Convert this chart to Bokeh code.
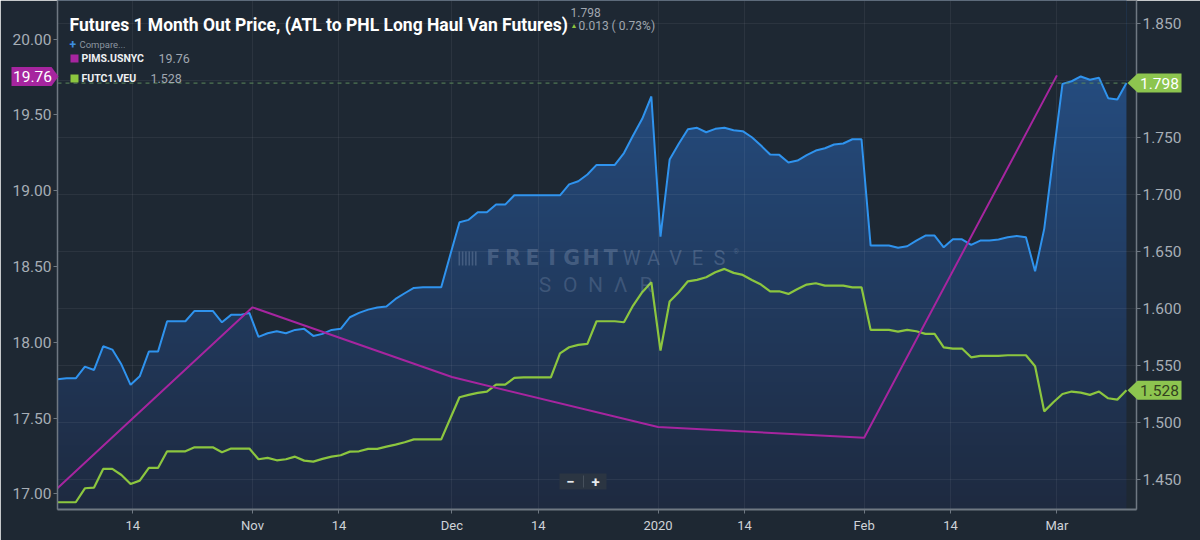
import numpy as np
import pandas as pd
from bokeh.plotting import figure
from bokeh.layouts import column
from bokeh.models import (Range1d, LinearAxis, FixedTicker, PrintfTickFormatter, Label, Span,
                          PolyAnnotation, BoxAnnotation)
from bokeh.core.properties import value
from bokeh.embed import file_html
from bokeh.resources import INLINE

# ---------------- data ----------------
# Futures 1 Month Out Price (ATL to PHL Long Haul Van Futures) - right axis, evenly spaced observations
van_futures = [
    1.5377, 1.5385, 1.5385, 1.5488, 1.5459, 1.5667, 1.5638, 1.5506, 1.5328, 1.5403,
    1.5620, 1.5620, 1.5887, 1.5887, 1.5887, 1.5978, 1.5978, 1.5978, 1.5878, 1.5943,
    1.5943, 1.5960, 1.5749, 1.5781, 1.5799, 1.5781, 1.5811, 1.5820, 1.5758, 1.5776,
    1.5811, 1.5820, 1.5922, 1.5960, 1.5989, 1.6007, 1.6016, 1.6083, 1.6133, 1.6180,
    1.6185, 1.6185, 1.6185, 1.6473, 1.6757, 1.6778, 1.6845, 1.6845, 1.6912, 1.6912,
    1.6994, 1.6994, 1.6994, 1.6994, 1.6994, 1.6994, 1.7090, 1.7117, 1.7176, 1.7261,
    1.7261, 1.7261, 1.7365, 1.7519, 1.7666, 1.7862, 1.6631, 1.7308, 1.7446, 1.7574,
    1.7587, 1.7548, 1.7578, 1.7587, 1.7566, 1.7557, 1.7504, 1.7431, 1.7352, 1.7349,
    1.7282, 1.7299, 1.7346, 1.7387, 1.7407, 1.7440, 1.7449, 1.7486, 1.7486, 1.6552,
    1.6552, 1.6552, 1.6532, 1.6546, 1.6596, 1.6640, 1.6640, 1.6537, 1.6607, 1.6607,
    1.6558, 1.6596, 1.6596, 1.6605, 1.6625, 1.6637, 1.6625, 1.6326, 1.6699, 1.7343,
    1.7973, 1.7996, 1.8038, 1.8009, 1.8026, 1.7847, 1.7835, 1.7980,
]
# FUTC1.VEU - right axis
futc1_veu = [
    1.4296, 1.4296, 1.4296, 1.4419, 1.4425, 1.4589, 1.4589, 1.4536, 1.4457, 1.4486,
    1.4598, 1.4598, 1.4744, 1.4744, 1.4744, 1.4779, 1.4779, 1.4779, 1.4735, 1.4768,
    1.4768, 1.4768, 1.4674, 1.4686, 1.4665, 1.4674, 1.4697, 1.4662, 1.4653, 1.4677,
    1.4697, 1.4709, 1.4741, 1.4744, 1.4765, 1.4765, 1.4785, 1.4803, 1.4823, 1.4849,
    1.4849, 1.4849, 1.4849, 1.5034, 1.5219, 1.5240, 1.5257, 1.5269, 1.5330, 1.5330,
    1.5389, 1.5394, 1.5394, 1.5394, 1.5394, 1.5605, 1.5658, 1.5679, 1.5688, 1.5887,
    1.5887, 1.5887, 1.5878, 1.6025, 1.6142, 1.6229, 1.5629, 1.6060, 1.6142, 1.6238,
    1.6250, 1.6273, 1.6317, 1.6347, 1.6312, 1.6294, 1.6250, 1.6209, 1.6150, 1.6150,
    1.6127, 1.6171, 1.6209, 1.6221, 1.6200, 1.6200, 1.6200, 1.6185, 1.6185, 1.5811,
    1.5811, 1.5811, 1.5796, 1.5811, 1.5799, 1.5776, 1.5776, 1.5658, 1.5647, 1.5647,
    1.5570, 1.5582, 1.5582, 1.5582, 1.5588, 1.5588, 1.5588, 1.5491, 1.5095, 1.5175,
    1.5248, 1.5269, 1.5260, 1.5240, 1.5269, 1.5210, 1.5198, 1.5280,
]
# PIMS.USNYC - monthly, left axis
pims_dates = ["2019-10-01", "2019-11-01", "2019-12-01", "2020-01-01", "2020-02-01", "2020-03-01"]
pims_usnyc = [16.97, 18.23, 17.77, 17.44, 17.37, 19.76]

tick_dates = ["2019-10-14", "2019-11-01", "2019-11-14", "2019-12-01", "2019-12-14",
              "2020-01-01", "2020-01-14", "2020-02-01", "2020-02-14", "2020-03-01"]
tick_labels = ["14", "Nov", "14", "Dec", "14", "2020", "14", "Feb", "14", "Mar"]
left_ticks = [17.0, 17.5, 18.0, 18.5, 19.0, 19.5, 20.0]
right_ticks = [1.45, 1.50, 1.55, 1.60, 1.65, 1.70, 1.75, 1.80, 1.85]

# observation window: the chart spaces the observations evenly across it
window_start = pd.Timestamp("2019-10-02 16:00")
window_end = pd.Timestamp("2020-03-11 11:00")

# ---------------- styling / layout ----------------
BG = "#1e2833"
BLUE = "#2f93ee"
GREEN = "#8cc63f"
PURPLE = "#a6259f"
TAG_GREEN = "#8dc54f"
AXIS_TXT = "#a7aeb6"
FONT = "Roboto"

W, H = 1200, 540
FL, FR, FB, FT = 57, 1136, 509, 0  # frame edges in page pixels

n = len(van_futures)
idx = np.arange(n)


def pos(d):
    return float((pd.Timestamp(d) - window_start) / (window_end - window_start) * (n - 1))


# axis scales: left 20.00 at y=38.5, 151.6 px/unit ; right 1.850 at y=23.4, 1137.9 px/unit
L_PX, L_REF, L_Y = 151.6, 20.0, 38.5
R_PX, R_REF, R_Y = 1137.9, 1.85, 23.4
L_top, L_bot = L_REF + (L_Y - FT) / L_PX, L_REF - (FB - L_Y) / L_PX
R_top, R_bot = R_REF + (R_Y - FT) / R_PX, R_REF - (FB - R_Y) / R_PX


def yL(v):
    return L_Y + (L_REF - v) * L_PX


def yR(v):
    return R_Y + (R_REF - v) * R_PX


p = figure(width=W, height=H, x_range=Range1d(0, 118.1), y_range=Range1d(L_bot, L_top),
           output_backend="svg", toolbar_location=None,
           background_fill_color=BG, border_fill_color=BG, outline_line_color=None,
           min_border_left=FL, min_border_right=W - FR,
           min_border_top=FT, min_border_bottom=H - FB, frame_align=False)
p.extra_y_ranges = {"right": Range1d(R_bot, R_top)}

# axes
ly = p.yaxis[0]
ly.ticker = FixedTicker(ticks=left_ticks)
ly.formatter = PrintfTickFormatter(format="%.2f")
ry = LinearAxis(y_range_name="right", ticker=FixedTicker(ticks=right_ticks),
                formatter=PrintfTickFormatter(format="%.3f"))
p.add_layout(ry, "right")
bx = p.xaxis[0]
tick_pos = [round(pos(d), 4) for d in tick_dates]
bx.ticker = FixedTicker(ticks=tick_pos)
bx.major_label_overrides = {tp: lb for tp, lb in zip(tick_pos, tick_labels)}

for ax in (ly, ry, bx):
    ax.axis_line_color = "#6f7882"
    ax.axis_line_width = 1.5
    ax.major_tick_line_color = "#6f7882"
    ax.major_tick_out = 4
    ax.major_tick_in = 0
    ax.minor_tick_line_color = None
    ax.major_label_text_font = FONT
    ax.major_label_text_color = AXIS_TXT
    ax.major_label_text_font_size = "15.5px"
    ax.major_label_standoff = 2
bx.major_label_text_font_size = "13px"
bx.major_label_text_color = "#cfd3d8"
bx.major_label_standoff = 4
bx.axis_line_width = 2

p.xgrid[0].grid_line_color = "white"
p.xgrid[0].grid_line_alpha = 0.06
p.ygrid[0].ticker = ry.ticker
p.ygrid[0].y_range_name = "right"
p.ygrid[0].grid_line_color = "white"
p.ygrid[0].grid_line_alpha = 0.06

# gradient fill under the main series: gradient image masked above the line
rows = 512
grad = np.zeros((rows, 1), dtype=np.uint32)
view = grad.view(dtype=np.uint8).reshape((rows, 1, 4))
top_c = np.array([38, 82, 138])
bot_c = np.array([30, 42, 64])
for i in range(rows):
    t = i / (rows - 1)
    c = bot_c + (top_c - bot_c) * t
    view[i, 0, 0:3] = c.astype(np.uint8)
    view[i, 0, 3] = 255
p.image_rgba(image=[grad], x=0, y=R_bot, dw=n - 1, dh=R_top - R_bot, y_range_name="right", level="image")
p.varea(x=idx, y1=van_futures, y2=R_top, y_range_name="right", fill_color=BG, level="image")

p.line(idx, van_futures, y_range_name="right", line_color=BLUE, line_width=2)
p.line(idx, futc1_veu, y_range_name="right", line_color=GREEN, line_width=2.2)
p.line([pos(d) for d in pims_dates], pims_usnyc, line_color=PURPLE, line_width=2)

# current-value dashed line
p.add_layout(Span(location=van_futures[-1], dimension="width", y_range_name="right",
                  line_color="#5b8a5b", line_dash="4 4", line_width=1.2, line_alpha=0.8))


def label(X, Y, text, size, color, style="normal", align="left", baseline="middle", font=FONT, alpha=1.0):
    p.add_layout(Label(x=X - FL, y=FB - Y, x_units="screen", y_units="screen", text=text,
                       text_font=font, text_font_size=size, text_color=color, text_font_style=style,
                       text_align=align, text_baseline=baseline, text_alpha=alpha))


def poly(points, color, alpha=1.0):
    p.add_layout(PolyAnnotation(xs=[X - FL for X, _ in points], ys=[FB - Y for _, Y in points],
                                xs_units="screen", ys_units="screen", fill_color=color,
                                fill_alpha=alpha, line_color=None))


# watermark
wm = "#aabad6"
for word, x0, x1, yc, size, style, font, a in [
        ("FREIGHT", 483, 620, 257.5, "20.5px", "bold", "DejaVu Sans", 0.26),
        ("WAVES", 620, 730, 257.5, "20px", "normal", "Roboto", 0.26),
        ("SONΛR", 532, 658, 284, "21px", "normal", "Roboto", 0.22)]:
    pitch = (x1 - x0) / len(word)
    for i, ch in enumerate(word):
        label(x0 + pitch * (i + 0.5), yc, ch, size, wm, style=style, align="center", font=font, alpha=a)
label(733, 251, "®", "7px", wm, alpha=0.26)
for i in range(6):   # small logo mark left of the wordmark
    bx0 = 458 + i * 3.3
    poly([(bx0, 251), (bx0 + 1.6, 251), (bx0 + 1.6, 265), (bx0, 265)], wm, alpha=0.26)

# header texts
label(69, 24, "Futures 1 Month Out Price, (ATL to PHL Long Haul Van Futures)", "17.5px", "#ffffff",
      style="bold", baseline="alphabetic")
label(570, 12, "1.798", "12px", "#a0a7b0")
label(570, 25, "▲", "7px", GREEN)
label(578, 25, "0.013 ( 0.73%)", "12px", "#a0a7b0")
label(69, 44, "+", "12px", "#3d8fe0", style="bold")
label(79, 44, "Compare...", "9.5px", "#8c96a0")
poly([(70, 54), (78, 54), (78, 62), (70, 62)], PURPLE)
label(81, 58, "PIMS.USNYC", "10.5px", "#eef0f2", style="bold")
label(158, 58, "19.76", "12.5px", "#a0a7b0")
poly([(70, 74), (78, 74), (78, 82), (70, 82)], GREEN)
label(81, 78, "FUTC1.VEU", "10.5px", "#eef0f2", style="bold")
label(150, 78, "1.528", "12.5px", "#a0a7b0")

# zoom control
p.add_layout(BoxAnnotation(left=559 - FL, right=606 - FL, top=FB - 473, bottom=FB - 489,
                           left_units="screen", right_units="screen", top_units="screen",
                           bottom_units="screen", fill_color="#2b3542", fill_alpha=1.0, line_color=None))
p.add_layout(BoxAnnotation(left=582.5 - FL, right=583.5 - FL, top=FB - 475, bottom=FB - 487,
                           left_units="screen", right_units="screen", top_units="screen",
                           bottom_units="screen", fill_color="#46505c", fill_alpha=1.0, line_color=None))
label(570, 481, "−", "15px", "#e6e9ec", style="bold", align="center")
label(595, 481, "+", "15px", "#e6e9ec", style="bold", align="center")

# ---------------- value tags (transparent overlay in page pixels, sits over the axes) ----------------
ov = figure(width=W, height=H, x_range=Range1d(0, W), y_range=Range1d(H, 0),
            output_backend="svg", toolbar_location=None, x_axis_location=None, y_axis_location=None,
            min_border=0, background_fill_alpha=0, border_fill_alpha=0, outline_line_color=None,
            margin=(-H, 0, 0, 0), frame_align=False)
ov.grid.visible = False

c = yL(pims_usnyc[-1]) + 1
ov.patch([11, 51, 58, 51, 11], [c - 9.5, c - 9.5, c, c + 9.5, c + 9.5], fill_color=PURPLE, line_color=None)
ov.text(x=[32], y=[c], text=[f"{pims_usnyc[-1]:.2f}"], text_font=value(FONT), text_font_size="15.5px",
        text_color="#ffffff", text_align="center", text_baseline="middle")
for v, tc in [(van_futures[-1], "#ffffff"), (futc1_veu[-1], "#33411f")]:
    c = yR(v)
    ov.patch([1127, 1137, 1181, 1181, 1137], [c, c - 9.5, c - 9.5, c + 9.5, c + 9.5],
             fill_color=TAG_GREEN, line_color=None)
    ov.text(x=[1159], y=[c], text=[f"{v:.3f}"], text_font=value(FONT), text_font_size="15.5px",
            text_color=tc, text_align="center", text_baseline="middle")

page = column(p, ov)

open("out.html", "w").write(file_html(page, INLINE))
